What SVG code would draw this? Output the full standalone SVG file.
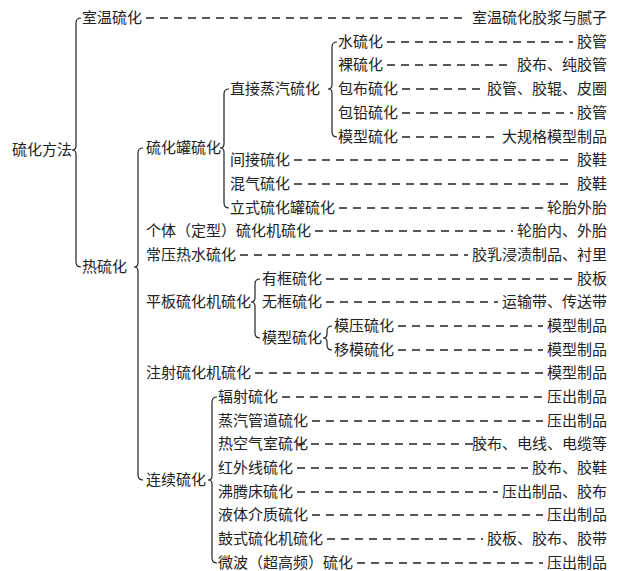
<svg xmlns="http://www.w3.org/2000/svg" width="619" height="571" viewBox="0 0 619 571">
<style>
text{font-family:"Noto Sans CJK SC","Noto Sans",sans-serif;font-size:15px;fill:#222}
.r{text-anchor:end}
.d{stroke:#222;stroke-width:1.3;stroke-dasharray:8 6;fill:none}
.b{stroke:#222;stroke-width:1.2;fill:none}
</style>
<rect width="619" height="571" fill="#fff"/>
<g id="connectors">
<path class="b" d="M81,18 Q76,18 76,23 L76,146 Q76,150 72,150 Q76,150 76,154 L76,262 Q76,267 81,267"/>
<path class="b" d="M143,148 Q138,148 138,153 L138,263 Q138,267 134,267 Q138,267 138,271 L138,475 Q138,480 143,480"/>
<path class="b" d="M229,89 Q224,89 224,94 L224,144 Q224,148 220,148 Q224,148 224,152 L224,203 Q224,208 229,208"/>
<path class="b" d="M337,42 Q332,42 332,47 L332,85 Q332,89 328,89 Q332,89 332,93 L332,132 Q332,137 337,137"/>
<path class="b" d="M260,279 Q255,279 255,284 L255,298 Q255,302 251,302 Q255,302 255,306 L255,333 Q255,338 260,338"/>
<path class="b" d="M332,326 Q327,326 327,331 L327,334 Q327,338 323,338 Q327,338 327,342 L327,345 Q327,350 332,350"/>
<path class="b" d="M217,397 Q212,397 212,402 L212,476 Q212,480 208,480 Q212,480 212,484 L212,558 Q212,563 217,563"/>
<path class="d" d="M146,18H468M387,42H573M387,65H513M402,89H483M402,113H573M402,137H498M294,160H573M294,184H573M339,208H543M315,231H513M240,255H468M326,279H573M326,302H498M398,326H543M398,350H543M255,373H543M282,397H543M312,421H543M297,444H483M297,468H528M297,492H498M312,515H543M327,539H483M357,563H543"/>
</g>
<g id="n-root"><text x="12" y="155">硫化方法</text></g>
<g id="n-room"><text x="82" y="23">室温硫化</text><text class="r" x="607" y="23">室温硫化胶浆与腻子</text></g>
<g id="n-hot"><text x="82" y="272">热硫化</text></g>
<g id="n-tank"><text x="146" y="153">硫化罐硫化</text></g>
<g id="n-direct"><text x="230" y="94">直接蒸汽硫化</text></g>
<g id="n-water"><text x="338" y="47">水硫化</text><text class="r" x="607" y="47">胶管</text></g>
<g id="n-bare"><text x="338" y="70">裸硫化</text><text class="r" x="607" y="70">胶布、纯胶管</text></g>
<g id="n-wrap"><text x="338" y="94">包布硫化</text><text class="r" x="607" y="94">胶管、胶辊、皮圈</text></g>
<g id="n-lead"><text x="338" y="118">包铅硫化</text><text class="r" x="607" y="118">胶管</text></g>
<g id="n-mold1"><text x="338" y="142">模型硫化</text><text class="r" x="607" y="142">大规格模型制品</text></g>
<g id="n-indirect"><text x="230" y="165">间接硫化</text><text class="r" x="607" y="165">胶鞋</text></g>
<g id="n-mixed"><text x="230" y="189">混气硫化</text><text class="r" x="607" y="189">胶鞋</text></g>
<g id="n-vertical"><text x="230" y="213">立式硫化罐硫化</text><text class="r" x="607" y="213">轮胎外胎</text></g>
<g id="n-indiv"><text x="146" y="236">个体（定型）硫化机硫化</text><text class="r" x="607" y="236">轮胎内、外胎</text></g>
<g id="n-hotwater"><text x="146" y="260">常压热水硫化</text><text class="r" x="607" y="260">胶乳浸渍制品、衬里</text></g>
<g id="n-plate"><text x="146" y="307">平板硫化机硫化</text></g>
<g id="n-frame"><text x="262" y="284">有框硫化</text><text class="r" x="607" y="284">胶板</text></g>
<g id="n-noframe"><text x="262" y="307">无框硫化</text><text class="r" x="607" y="307">运输带、传送带</text></g>
<g id="n-mold2"><text x="262" y="343">模型硫化</text></g>
<g id="n-press"><text x="334" y="331">模压硫化</text><text class="r" x="607" y="331">模型制品</text></g>
<g id="n-transfer"><text x="334" y="355">移模硫化</text><text class="r" x="607" y="355">模型制品</text></g>
<g id="n-inject"><text x="146" y="378">注射硫化机硫化</text><text class="r" x="607" y="378">模型制品</text></g>
<g id="n-cont"><text x="146" y="485">连续硫化</text></g>
<g id="n-rad"><text x="218" y="402">辐射硫化</text><text class="r" x="607" y="402">压出制品</text></g>
<g id="n-pipe"><text x="218" y="426">蒸汽管道硫化</text><text class="r" x="607" y="426">压出制品</text></g>
<g id="n-air"><text x="218" y="449">热空气室硫化</text><text class="r" x="607" y="449">胶布、电线、电缆等</text></g>
<g id="n-ir"><text x="218" y="473">红外线硫化</text><text class="r" x="607" y="473">胶布、胶鞋</text></g>
<g id="n-bed"><text x="218" y="497">沸腾床硫化</text><text class="r" x="607" y="497">压出制品、胶布</text></g>
<g id="n-liquid"><text x="218" y="520">液体介质硫化</text><text class="r" x="607" y="520">压出制品</text></g>
<g id="n-drum"><text x="218" y="544">鼓式硫化机硫化</text><text class="r" x="607" y="544">胶板、胶布、胶带</text></g>
<g id="n-micro"><text x="218" y="568">微波（超高频）硫化</text><text class="r" x="607" y="568">压出制品</text></g>
</svg>
